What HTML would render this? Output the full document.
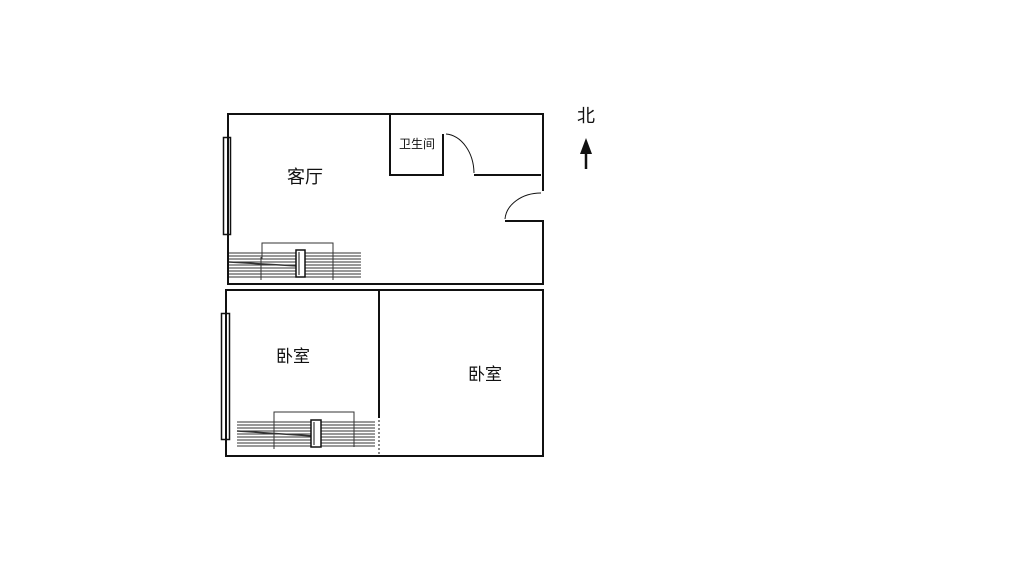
<!DOCTYPE html>
<html><head><meta charset="utf-8"><style>
html,body{margin:0;padding:0;background:#fff;width:1024px;height:563px;overflow:hidden}
svg{display:block}
text{font-family:"Liberation Sans","Noto Sans CJK SC",sans-serif;fill:#111}
</style></head><body>
<svg width="1024" height="563" viewBox="0 0 1024 563" xmlns="http://www.w3.org/2000/svg">
<g fill="none" stroke="#111">
<!-- top box -->
<path d="M543 191 V114 H228 V284 H543 V220" stroke-width="2"/>
<!-- bathroom -->
<path d="M390 114 V175 H443 V134" stroke-width="2"/>
<path d="M474 175 H541" stroke-width="2"/>
<path d="M446 134 A30 40 0 0 1 474 173" stroke-width="1"/>
<!-- entrance door -->
<path d="M505 221 H543" stroke-width="2"/>
<path d="M505 219 A36 28 0 0 1 541 193" stroke-width="1"/>
<!-- window top -->
<rect x="223.5" y="137.5" width="7" height="97" stroke-width="1.5"/>
<!-- radiator top -->
<g stroke-width="1" stroke="#333">
<path d="M229 253H361M229 256H361M229 259H361M229 262H361M229 265H361M229 268H361M229 271H361M229 274H361M229 277H361"/>
<path d="M262 259V243H333V280"/>
<path d="M229 262 L298 266" stroke-width="1.5"/>
<path d="M261 257V280"/>
</g>
<rect x="296" y="250" width="9" height="27" stroke-width="1.5" fill="#fff"/>
<path d="M299 252V275" stroke-width="1"/>
<!-- bottom box -->
<path d="M226 290 H543 V456 H226 Z" stroke-width="2"/>
<path d="M379 290 V418" stroke-width="2"/>
<path d="M379 420 V456" stroke-width="1" stroke-dasharray="2 2"/>
<rect x="221.5" y="313.5" width="8" height="126" stroke-width="1.5"/>
<g stroke-width="1" stroke="#333">
<path d="M237 422H375M237 425H375M237 428H375M237 431H375M237 434H375M237 437H375M237 440H375M237 443H375M237 446H375"/>
<path d="M274 427V412H354V447"/>
<path d="M237 431 L313 436" stroke-width="1.5"/>
<path d="M274 426V449"/>
</g>
<rect x="311" y="420" width="10" height="27" stroke-width="1.5" fill="#fff"/>
<path d="M314 422V445" stroke-width="1"/>
<!-- north arrow -->
<path d="M586 152 V169" stroke-width="2.5"/>
</g>
<polygon points="586,138 580,154 592,154" fill="#111"/>
<text x="586" y="122" font-size="18" text-anchor="middle">北</text>
<text x="305" y="183" font-size="18" text-anchor="middle">客厅</text>
<text x="417" y="148" font-size="12" text-anchor="middle">卫生间</text>
<text x="293" y="362" font-size="17" text-anchor="middle">卧室</text>
<text x="485" y="380" font-size="17" text-anchor="middle">卧室</text>
</svg>
</body></html>
